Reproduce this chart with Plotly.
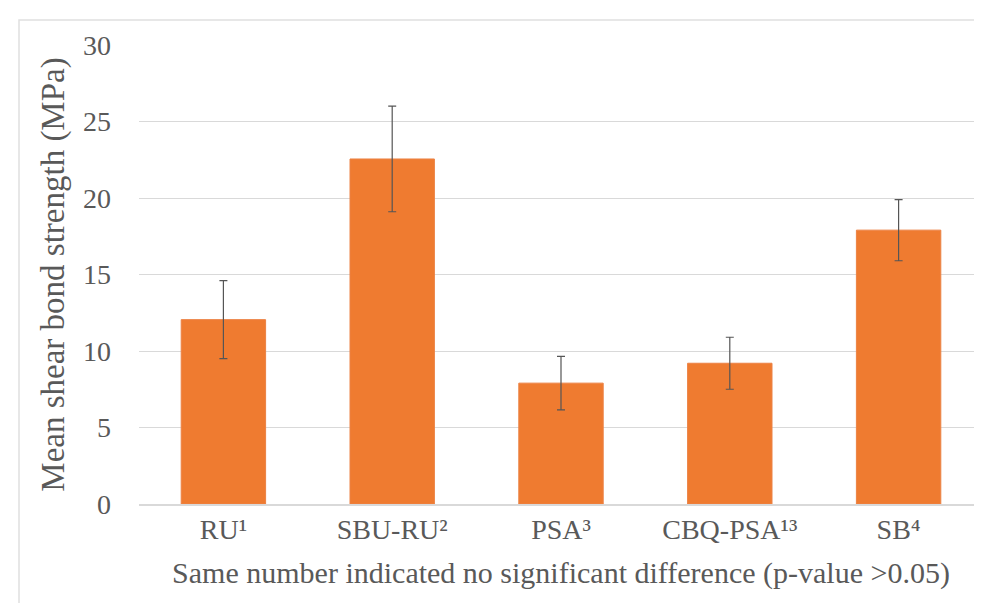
import plotly.graph_objects as go

categories = ["RU¹", "SBU-RU²", "PSA³", "CBQ-PSA¹³", "SB⁴"]
means = [12.05, 22.55, 7.9, 9.2, 17.9]
errors = [2.55, 3.45, 1.75, 1.7, 2.0]
y_ticks = [0, 5, 10, 15, 20, 25, 30]

font_family = "Liberation Serif, Times New Roman, serif"
text_color = "#595959"
grid_color = "#d9d9d9"

fig = go.Figure()
fig.add_trace(go.Bar(
    x=categories,
    y=means,
    marker=dict(color="#EF7B30", line=dict(color="#EC8244", width=1)),
    error_y=dict(type="data", array=errors, visible=True,
                 color="#555555", thickness=1.2, width=4),
    showlegend=False,
))

fig.update_layout(
    width=982, height=603,
    margin=dict(l=131, r=7, t=37, b=107),
    paper_bgcolor="white",
    plot_bgcolor="white",
    bargap=0.5,
    font=dict(family=font_family, color=text_color, size=28),
    xaxis=dict(
        title=dict(text="Same number indicated no significant difference (p-value >0.05)",
                   font=dict(size=30, color=text_color), standoff=18),
        tickfont=dict(size=28, color=text_color),
        showline=True, linecolor=grid_color, linewidth=1.5,
        showgrid=False, ticks="", automargin=False,
    ),
    yaxis=dict(
        title=dict(text="Mean shear bond strength (MPa)",
                   font=dict(size=33, color=text_color), standoff=8),
        range=[0, 30], tickvals=y_ticks,
        tickfont=dict(size=28, color=text_color),
        showgrid=True, gridcolor=grid_color, gridwidth=1.3,
        zeroline=False, showline=False, ticks="",
        ticklabelstandoff=27, automargin=False,
    ),
    shapes=[dict(type="rect", xref="paper", yref="paper",
                 x0=(11 - 131) / 844, x1=1.05, y0=-0.5, y1=(496 - 12) / 459,
                 line=dict(color="#e0e0e0", width=1.5), fillcolor="rgba(0,0,0,0)",
                 layer="below")],
)

fig.write_html("out.html")
